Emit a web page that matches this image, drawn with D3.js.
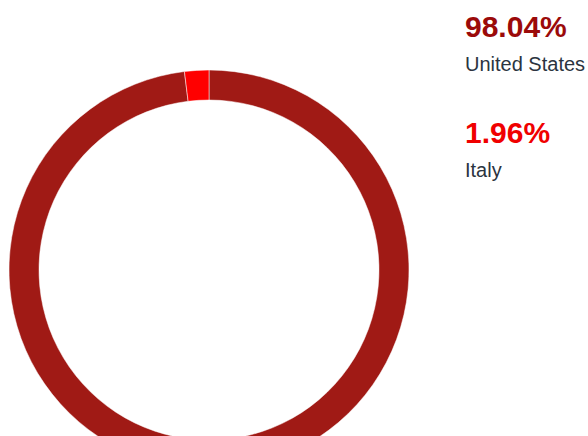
<!DOCTYPE html>
<html>
<head>
<meta charset="utf-8">
<script src="https://cdn.jsdelivr.net/npm/d3@7"></script>
<style>
  body { margin: 0; background: #fff; }
  svg { display: block; }
</style>
</head>
<body>
<svg width="588" height="436"></svg>
<script>
// data
const countries = ['United States', 'Italy'];
const shares = [98.04, 1.96];
const sliceColors = ['#a01a15', '#ff0000'];
const labelColors = ['#9b0a0a', '#f00000'];

let svg = d3.select('svg');

const cx = 209, cy = 270, outerR = 200, innerR = 170;

const data = countries.map((c, i) => ({country: c, share: shares[i]}));

const pie = d3.pie().sort(null).value((d) => {return d.share});
const arc = d3.arc().innerRadius(innerR).outerRadius(outerR);

let g = svg.append('g').attr('transform', `translate(${cx}, ${cy})`);

g.selectAll('path')
  .data(pie(data))
  .enter().append('path')
    .attr('d', arc)
    .attr('fill', (d, i) => {return sliceColors[i]})
    .attr('stroke', '#fff')
    .attr('stroke-width', 0.5);

// legend
let legend = svg.append('g').attr('transform', 'translate(465, 0)');

let item = legend.selectAll('.item')
  .data(data)
  .enter().append('g')
    .attr('class', 'item')
    .attr('transform', (d, i) => {return `translate(0, ${37 + i * 106})`});

item.append('text')
  .attr('font-family', 'Liberation Sans, Arial, sans-serif')
  .attr('font-weight', 'bold')
  .attr('font-size', 30)
  .attr('fill', (d, i) => {return labelColors[i]})
  .text((d) => {return d.share.toFixed(2) + '%'});

item.append('text')
  .attr('y', 34)
  .attr('font-family', 'Liberation Sans, Arial, sans-serif')
  .attr('font-size', 20)
  .attr('fill', '#2b3440')
  .text((d) => {return d.country});
</script>
</body>
</html>
